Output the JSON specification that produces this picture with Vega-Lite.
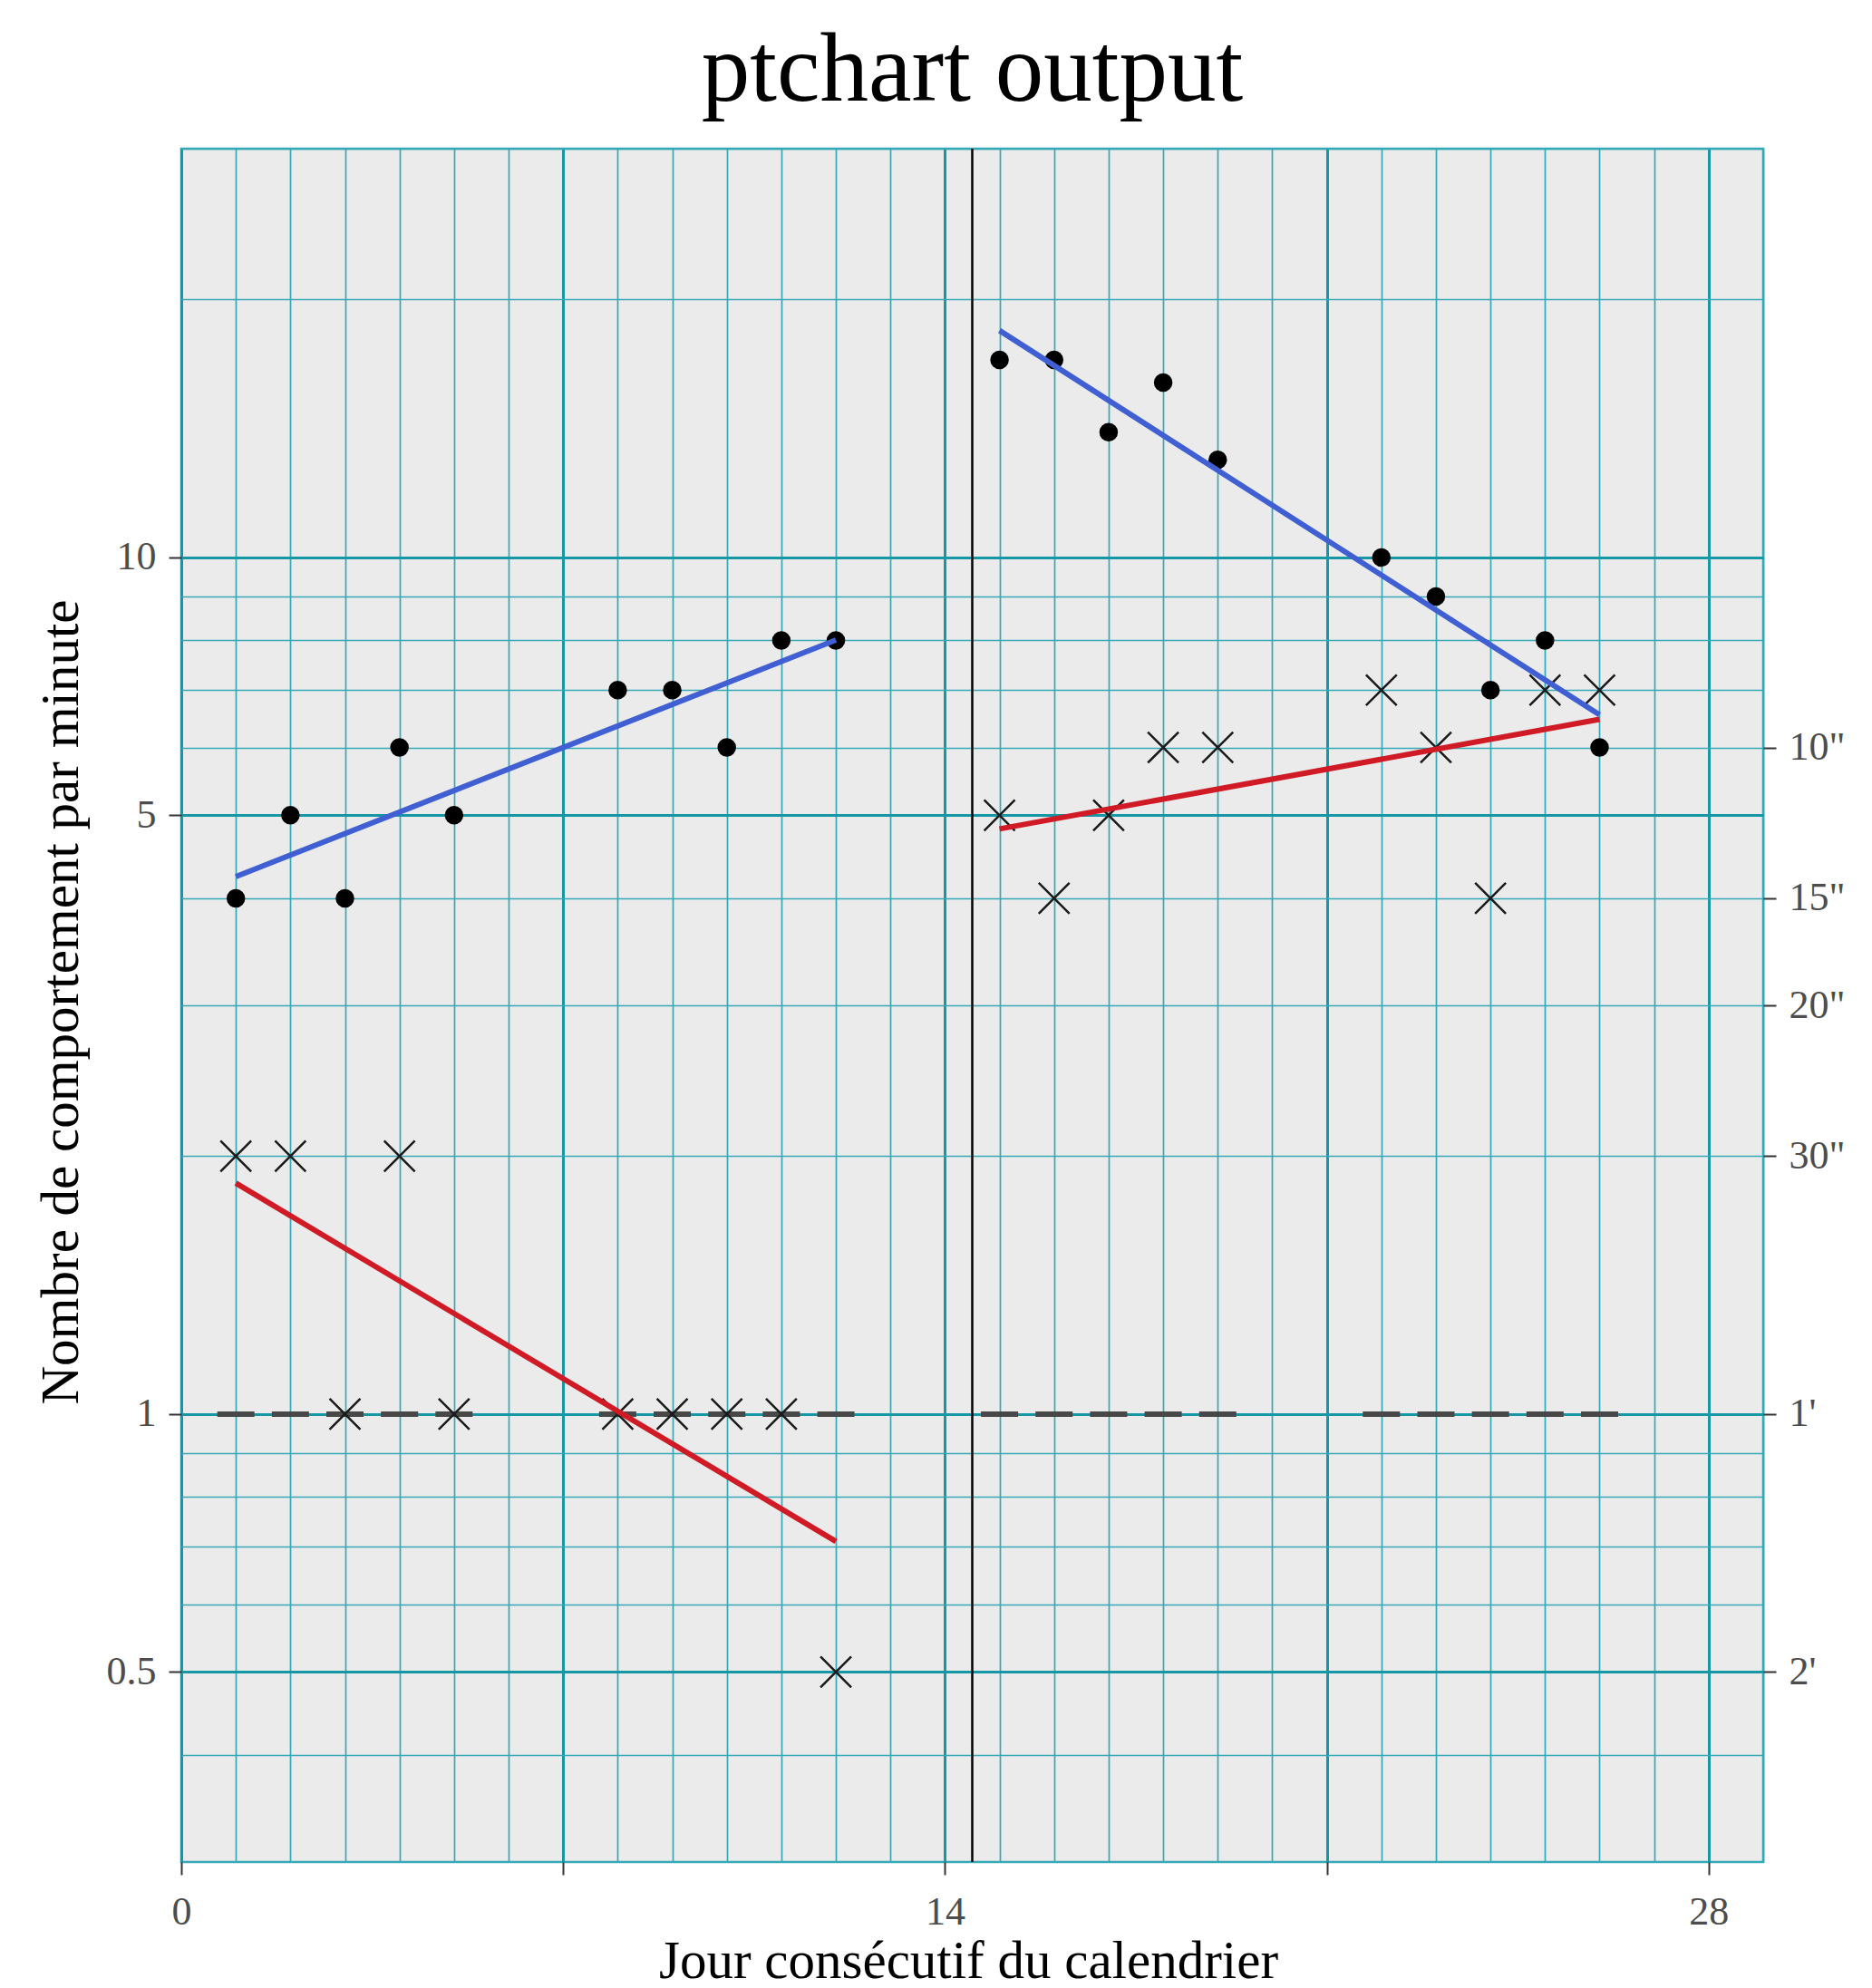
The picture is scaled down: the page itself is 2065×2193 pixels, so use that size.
{
  "$schema": "https://vega.github.io/schema/vega-lite/v6.json",
  "width": 1745,
  "height": 1890,
  "autosize": {"type": "none"},
  "padding": {"left": 200, "top": 164, "right": 120, "bottom": 139},
  "background": "#FFFFFF",
  "title": {
    "text": "ptchart output",
    "font": "Liberation Serif",
    "fontSize": 107,
    "fontWeight": "normal",
    "color": "#000000",
    "anchor": "middle",
    "frame": "group",
    "baseline": "alphabetic",
    "offset": 45,
    "dy": 121
  },
  "config": {
    "view": {"fill": "#EBEBEB", "stroke": "#36A8B6", "strokeWidth": 2.5},
    "axis": {
      "labelFont": "Liberation Serif",
      "titleFont": "Liberation Serif",
      "labelFontSize": 44,
      "titleFontSize": 59,
      "labelColor": "#4D4D4D",
      "titleColor": "#000000",
      "titleFontWeight": "normal",
      "tickColor": "#333333",
      "tickWidth": 2,
      "tickSize": 14,
      "labelPadding": 14,
      "domain": false,
      "labelFlush": false,
      "labelOverlap": false
    }
  },
  "datasets": {
    "days": [
      {"day": 1, "correct": 4, "errors": 2, "floor": 1},
      {"day": 2, "correct": 5, "errors": 2, "floor": 1},
      {"day": 3, "correct": 4, "errors": 1, "floor": 1},
      {"day": 4, "correct": 6, "errors": 2, "floor": 1},
      {"day": 5, "correct": 5, "errors": 1, "floor": 1},
      {"day": 8, "correct": 7, "errors": 1, "floor": 1},
      {"day": 9, "correct": 7, "errors": 1, "floor": 1},
      {"day": 10, "correct": 6, "errors": 1, "floor": 1},
      {"day": 11, "correct": 8, "errors": 1, "floor": 1},
      {"day": 12, "correct": 8, "errors": 0.5, "floor": 1},
      {"day": 15, "correct": 17, "errors": 5, "floor": 1},
      {"day": 16, "correct": 17, "errors": 4, "floor": 1},
      {"day": 17, "correct": 14, "errors": 5, "floor": 1},
      {"day": 18, "correct": 16, "errors": 6, "floor": 1},
      {"day": 19, "correct": 13, "errors": 6, "floor": 1},
      {"day": 22, "correct": 10, "errors": 7, "floor": 1},
      {"day": 23, "correct": 9, "errors": 6, "floor": 1},
      {"day": 24, "correct": 7, "errors": 4, "floor": 1},
      {"day": 25, "correct": 8, "errors": 7, "floor": 1},
      {"day": 26, "correct": 6, "errors": 7, "floor": 1}
    ],
    "trend": [
      {"segment": "phase1-correct", "kind": "correct", "day": 1, "rate": 4.24},
      {"segment": "phase1-correct", "kind": "correct", "day": 12, "rate": 8.01},
      {"segment": "phase1-errors", "kind": "errors", "day": 1, "rate": 1.86},
      {"segment": "phase1-errors", "kind": "errors", "day": 12, "rate": 0.71},
      {"segment": "phase2-correct", "kind": "correct", "day": 15, "rate": 18.4},
      {"segment": "phase2-correct", "kind": "correct", "day": 26, "rate": 6.55},
      {"segment": "phase2-errors", "kind": "errors", "day": 15, "rate": 4.82},
      {"segment": "phase2-errors", "kind": "errors", "day": 26, "rate": 6.47}
    ],
    "phase": [{"day": 14.5}]
  },
  "layer": [
    {
      "data": {"name": "phase"},
      "mark": {"type": "rule", "color": "#000000", "strokeWidth": 2.5},
      "encoding": {
        "x": {
          "field": "day",
          "type": "quantitative",
          "scale": {"domain": [0, 29], "nice": false, "zero": false},
          "axis": {
            "values": [0,1,2,3,4,5,6,7,8,9,10,11,12,13,14,15,16,17,18,19,20,21,22,23,24,25,26,27,28,29],
            "grid": true,
            "title": "Jour consécutif du calendrier",
            "titleBaseline": "alphabetic",
            "titleX": 868,
            "titleY": 127,
            "labelBaseline": "alphabetic",
            "labelPadding": 54,
            "labelExpr": "datum.value % 14 === 0 ? format(datum.value, 'd') : ''",
            "tickOpacity": {"condition": {"test": "datum.value % 7 === 0", "value": 1}, "value": 0},
            "gridColor": {"condition": {"test": "datum.value % 7 === 0", "value": "#1597A6"}, "value": "#36A8B6"},
            "gridWidth": {"condition": {"test": "datum.value % 7 === 0", "value": 3}, "value": 1.7}
          }
        }
      }
    },
    {
      "data": {"name": "days"},
      "mark": {"type": "tick", "orient": "horizontal", "color": "#484848", "size": 41, "thickness": 6, "opacity": 1},
      "encoding": {
        "x": {"field": "day", "type": "quantitative", "scale": {"domain": [0, 29], "nice": false, "zero": false}},
        "y": {"field": "floor", "type": "quantitative", "scale": {"type": "log", "domain": [0.3, 30], "nice": false}, "axis": null}
      }
    },
    {
      "data": {"name": "days"},
      "mark": {"type": "point", "shape": "circle", "filled": true, "color": "#000000", "size": 420, "opacity": 1},
      "encoding": {
        "x": {"field": "day", "type": "quantitative", "scale": {"domain": [0, 29], "nice": false, "zero": false}},
        "y": {
          "field": "correct",
          "type": "quantitative",
          "scale": {"type": "log", "domain": [0.3, 30], "nice": false},
          "axis": {
            "orient": "left",
            "values": [0.4,0.5,0.6,0.7,0.8,0.9,1,2,3,4,5,6,7,8,9,10,20,30],
            "grid": true,
            "title": "Nombre de comportement par minute",
            "titleX": -115,
            "titleY": 941,
            "titleBaseline": "alphabetic",
            "labelBaseline": "middle",
            "labelExpr": "indexof([0.5,1,5,10], datum.value) >= 0 ? format(datum.value, '~g') : ''",
            "tickOpacity": {"condition": {"test": "indexof([0.5,1,5,10], datum.value) >= 0", "value": 1}, "value": 0},
            "gridColor": {"condition": {"test": "indexof([0.5,1,5,10], datum.value) >= 0", "value": "#1597A6"}, "value": "#36A8B6"},
            "gridWidth": {"condition": {"test": "indexof([0.5,1,5,10], datum.value) >= 0", "value": 3}, "value": 1.7}
          }
        }
      }
    },
    {
      "data": {"name": "days"},
      "mark": {"type": "point", "shape": "M-1,-1L1,1M-1,1L1,-1", "filled": false, "color": "#1A1A1A", "strokeWidth": 2.5, "size": 1150, "opacity": 1},
      "encoding": {
        "x": {"field": "day", "type": "quantitative", "scale": {"domain": [0, 29], "nice": false, "zero": false}},
        "y": {
          "field": "errors",
          "type": "quantitative",
          "scale": {"type": "log", "domain": [0.3, 30], "nice": false},
          "axis": {
            "orient": "right",
            "values": [0.5, 1, 2, 3, 4, 6],
            "grid": false,
            "title": null,
            "labelBaseline": "middle",
            "labelAlign": "left",
            "labelExpr": "datum.value == 6 ? '10\"' : datum.value == 4 ? '15\"' : datum.value == 3 ? '20\"' : datum.value == 2 ? '30\"' : datum.value == 1 ? \"1'\" : \"2'\""
          }
        }
      }
    },
    {
      "data": {"name": "trend"},
      "mark": {"type": "line", "strokeWidth": 6, "strokeCap": "butt"},
      "encoding": {
        "x": {"field": "day", "type": "quantitative", "scale": {"domain": [0, 29], "nice": false, "zero": false}},
        "y": {"field": "rate", "type": "quantitative", "scale": {"type": "log", "domain": [0.3, 30], "nice": false}, "axis": null},
        "color": {"field": "kind", "type": "nominal", "scale": {"domain": ["correct", "errors"], "range": ["#3F5FD2", "#D01A25"]}, "legend": null},
        "detail": {"field": "segment", "type": "nominal"}
      }
    }
  ],
  "resolve": {"axis": {"y": "independent"}}
}
